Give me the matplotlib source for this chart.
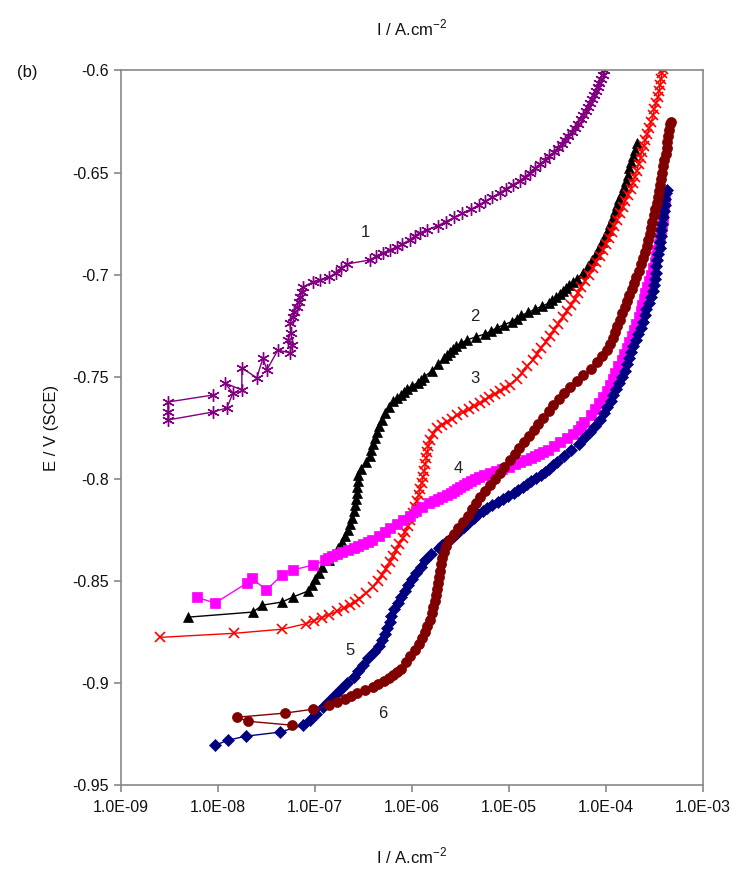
import numpy as np
import matplotlib
matplotlib.use("Agg")
import matplotlib.pyplot as plt
from matplotlib.ticker import FixedLocator, FuncFormatter, NullLocator

plt.rcParams['font.family'] = ['Liberation Sans', 'DejaVu Sans']
plt.rcParams['mathtext.fontset'] = 'custom'
plt.rcParams['mathtext.rm'] = 'Liberation Sans'

# potential E (V vs SCE) and log10 of current density (A/cm2)
c1_e = [-0.759, -0.7624, -0.7673, -0.7712, -0.7673, -0.7653, -0.7580, -0.7531, -0.7565, -0.7457,
        -0.7506, -0.7408, -0.7467, -0.7369, -0.7384, -0.7345, -0.7320, -0.7286, -0.7237, -0.7207,
        -0.7183, -0.7158, -0.7134, -0.7109, -0.7085, -0.7060,
        -0.7036, -0.7026, -0.7011, -0.6990, -0.6970, -0.6948, -0.6928, -0.6910, -0.6894, -0.6880,
        -0.6864, -0.6850, -0.6830, -0.6810, -0.6796, -0.6780, -0.6760, -0.6740, -0.6720, -0.6700,
        -0.6680, -0.6660, -0.6640, -0.6620, -0.6600, -0.6580, -0.6560, -0.6540, -0.6520, -0.6500,
        -0.6480, -0.6460, -0.6440, -0.6420, -0.6400, -0.6380, -0.6360, -0.6340, -0.6320, -0.6300,
        -0.6280, -0.6260, -0.6240, -0.6220, -0.6200, -0.6180, -0.6160, -0.6140, -0.6120, -0.6100,
        -0.6080, -0.6060, -0.6040, -0.6020, -0.6000]
c1_logi = [-8.052, -8.515, -8.515, -8.515, -8.052, -7.907, -7.845, -7.928, -7.753, -7.753,
           -7.598, -7.536, -7.495, -7.381, -7.258, -7.237, -7.278, -7.247, -7.258, -7.227,
           -7.216, -7.186, -7.165, -7.155, -7.134, -7.124,
           -7.02, -6.95, -6.85, -6.78, -6.73, -6.67, -6.43, -6.37, -6.30, -6.23,
           -6.155, -6.10, -6.02, -5.97, -5.92, -5.84, -5.73, -5.65, -5.56, -5.48,
           -5.39, -5.31, -5.24, -5.17, -5.095, -5.03, -4.96, -4.885, -4.83, -4.78,
           -4.73, -4.675, -4.625, -4.58, -4.53, -4.49, -4.455, -4.42, -4.385, -4.35,
           -4.32, -4.285, -4.26, -4.23, -4.205, -4.18, -4.16, -4.14, -4.12, -4.10,
           -4.08, -4.065, -4.05, -4.03, -4.015]

c2_e = [-0.8678, -0.8653, -0.8619, -0.8604, -0.8580,
        -0.855, -0.852, -0.849, -0.846, -0.843, -0.840, -0.837, -0.834, -0.831, -0.828,
        -0.825, -0.822, -0.819, -0.816, -0.813, -0.810, -0.807, -0.804, -0.801, -0.798,
        -0.795, -0.792, -0.789, -0.786, -0.783, -0.780, -0.777, -0.774, -0.771, -0.768,
        -0.765, -0.762, -0.7605, -0.759, -0.7575, -0.756, -0.7545, -0.753, -0.7515, -0.750,
        -0.747, -0.744, -0.741, -0.7395, -0.738, -0.7365,
        -0.735, -0.7335, -0.732, -0.7305, -0.729, -0.7275, -0.726, -0.7245, -0.723, -0.7215,
        -0.720, -0.7185, -0.717, -0.7155, -0.714, -0.7125, -0.711, -0.7095, -0.708,
        -0.7065, -0.705, -0.7035, -0.702, -0.699, -0.696, -0.693, -0.690, -0.687, -0.684, -0.681, -0.678,
        -0.675, -0.672, -0.669, -0.666, -0.663, -0.660, -0.657, -0.654, -0.651, -0.648,
        -0.645, -0.642, -0.639, -0.6355]
c2_logi = [-8.31, -7.64, -7.54, -7.34, -7.23,
           -7.07, -7.03, -7.00, -6.96, -6.93, -6.85, -6.81, -6.76, -6.72, -6.69,
           -6.66, -6.64, -6.62, -6.60, -6.585, -6.58, -6.57, -6.565, -6.56, -6.55,
           -6.52, -6.47, -6.43, -6.42, -6.40, -6.38, -6.36, -6.34, -6.31, -6.28,
           -6.24, -6.19, -6.15, -6.11, -6.08, -6.05, -6.00, -5.94, -5.905, -5.87,
           -5.79, -5.73, -5.67, -5.64, -5.61, -5.575,
           -5.54, -5.49, -5.43, -5.34, -5.24, -5.18, -5.12, -5.045, -4.97, -4.92,
           -4.87, -4.80, -4.73, -4.66, -4.59, -4.55, -4.51, -4.475, -4.44,
           -4.41, -4.38, -4.34, -4.30, -4.23, -4.18, -4.14, -4.10, -4.07, -4.04, -4.01, -3.98,
           -3.955, -3.93, -3.90, -3.88, -3.86, -3.835, -3.815, -3.795, -3.775, -3.755,
           -3.74, -3.72, -3.70, -3.68]

c3_e = [-0.8777, -0.8757, -0.8737,
        -0.871, -0.8695, -0.868, -0.8665, -0.865, -0.8635, -0.862, -0.8605, -0.859, -0.856,
        -0.853, -0.850, -0.847, -0.844,
        -0.841, -0.838, -0.835, -0.832, -0.829, -0.826, -0.823, -0.820, -0.817, -0.814,
        -0.811, -0.808, -0.805, -0.802, -0.799, -0.796, -0.793, -0.790, -0.787, -0.784,
        -0.781, -0.778, -0.775, -0.7735, -0.772, -0.7705, -0.769, -0.7675, -0.766, -0.7645,
        -0.763, -0.7615, -0.760, -0.7585, -0.757, -0.7555, -0.754,
        -0.751, -0.748, -0.745, -0.742, -0.739, -0.736, -0.733, -0.730, -0.727, -0.724,
        -0.721, -0.718, -0.715, -0.712, -0.709, -0.706, -0.703, -0.700, -0.697, -0.694,
        -0.691, -0.688, -0.685, -0.682, -0.679, -0.676, -0.673, -0.670, -0.667, -0.664,
        -0.661, -0.658, -0.655, -0.652, -0.649, -0.646, -0.643, -0.640, -0.637, -0.634,
        -0.631, -0.628, -0.625, -0.622, -0.619, -0.616, -0.613, -0.610, -0.607, -0.604,
        -0.601, -0.5995]
c3_logi = [-8.60, -7.83, -7.34,
           -7.09, -7.01, -6.93, -6.85, -6.77, -6.70, -6.64, -6.59, -6.54, -6.47,
           -6.40, -6.35, -6.31, -6.27,
           -6.23, -6.19, -6.16, -6.13, -6.09, -6.07, -6.04, -6.02, -5.99, -5.97,
           -5.95, -5.93, -5.915, -5.90, -5.88, -5.87, -5.86, -5.85, -5.84, -5.83,
           -5.81, -5.78, -5.74, -5.69, -5.64, -5.585, -5.53, -5.47, -5.41, -5.355,
           -5.30, -5.25, -5.20, -5.145, -5.09, -5.04, -4.99,
           -4.92, -4.86, -4.81, -4.75, -4.71, -4.67, -4.62, -4.57, -4.53, -4.49,
           -4.44, -4.40, -4.36, -4.32, -4.29, -4.25, -4.21, -4.17, -4.13, -4.10,
           -4.06, -4.03, -4.00, -3.97, -3.94, -3.91, -3.88, -3.85, -3.82, -3.80,
           -3.77, -3.74, -3.72, -3.70, -3.68, -3.66, -3.64, -3.63, -3.61, -3.59,
           -3.57, -3.55, -3.53, -3.51, -3.50, -3.48, -3.46, -3.45, -3.44, -3.43,
           -3.42, -3.41]

c4_e = [-0.8580, -0.8609, -0.8511, -0.8487, -0.8545, -0.8472, -0.8447, -0.8423,
        -0.840, -0.839, -0.838, -0.837, -0.836, -0.835, -0.834, -0.833, -0.832, -0.831, -0.830,
        -0.828, -0.826, -0.824, -0.822, -0.820, -0.818, -0.816, -0.814, -0.812,
        -0.811, -0.810, -0.809, -0.808, -0.807, -0.806, -0.805, -0.804, -0.803, -0.802,
        -0.801, -0.800, -0.799, -0.798, -0.797, -0.796, -0.795, -0.794, -0.793, -0.792,
        -0.791, -0.790, -0.789, -0.788, -0.787, -0.786,
        -0.784, -0.782, -0.780, -0.778, -0.776, -0.774, -0.772,
        -0.769, -0.766, -0.763, -0.760, -0.757, -0.754, -0.751, -0.748, -0.745, -0.742,
        -0.739, -0.736, -0.733, -0.730, -0.727, -0.724, -0.721, -0.718, -0.715, -0.712,
        -0.709, -0.706, -0.703, -0.700, -0.697, -0.694, -0.691, -0.688, -0.685, -0.682,
        -0.679, -0.676, -0.673, -0.670, -0.667, -0.664]
c4_logi = [-8.22, -8.03, -7.70, -7.65, -7.50, -7.34, -7.23, -7.02,
           -6.90, -6.86, -6.82, -6.77, -6.72, -6.66, -6.60, -6.55, -6.50, -6.455, -6.41,
           -6.34, -6.28, -6.22, -6.15, -6.09, -6.02, -5.96, -5.89, -5.82,
           -5.775, -5.73, -5.685, -5.64, -5.60, -5.56, -5.53, -5.50, -5.465, -5.43,
           -5.39, -5.35, -5.305, -5.26, -5.195, -5.13, -5.065, -5.00, -4.94, -4.88,
           -4.825, -4.77, -4.73, -4.69, -4.645, -4.60,
           -4.53, -4.47, -4.40, -4.34, -4.29, -4.25, -4.22,
           -4.15, -4.11, -4.07, -4.03, -3.99, -3.96, -3.93, -3.90, -3.87, -3.835,
           -3.81, -3.78, -3.76, -3.73, -3.71, -3.69, -3.66, -3.64, -3.625, -3.61,
           -3.59, -3.57, -3.55, -3.53, -3.51, -3.49, -3.48, -3.47, -3.455, -3.44,
           -3.43, -3.42, -3.41, -3.405, -3.40, -3.39]

c5_e = [-0.9306, -0.9281, -0.9261, -0.9241, -0.9207,
        -0.918, -0.915, -0.912, -0.909, -0.906, -0.903, -0.900, -0.897, -0.894, -0.891,
        -0.888, -0.885, -0.882, -0.879, -0.876, -0.873, -0.870, -0.867, -0.864, -0.861,
        -0.858, -0.855, -0.852, -0.849, -0.846, -0.843, -0.840, -0.837, -0.834, -0.8325,
        -0.831, -0.8295,
        -0.828, -0.8265, -0.825, -0.8235, -0.822, -0.8205, -0.819, -0.8175, -0.816, -0.8145,
        -0.813, -0.8115, -0.810, -0.8085, -0.807, -0.8055, -0.804, -0.8025, -0.801, -0.7995,
        -0.798, -0.7965, -0.795, -0.7935, -0.792, -0.789, -0.786, -0.783, -0.780, -0.777,
        -0.774, -0.771,
        -0.768, -0.765, -0.762, -0.759, -0.756, -0.753, -0.750, -0.747, -0.744, -0.741,
        -0.738, -0.735, -0.732, -0.729, -0.726, -0.723, -0.720, -0.717, -0.714, -0.711,
        -0.708, -0.705, -0.702, -0.699, -0.696, -0.693, -0.690, -0.687, -0.684, -0.681,
        -0.678, -0.675, -0.672, -0.669, -0.666, -0.663, -0.660, -0.6585]
c5_logi = [-8.03, -7.90, -7.71, -7.36, -7.12,
           -7.05, -6.99, -6.92, -6.85, -6.79, -6.73, -6.67, -6.60, -6.555, -6.50,
           -6.45, -6.39, -6.34, -6.31, -6.28, -6.26, -6.23, -6.21, -6.18, -6.14,
           -6.11, -6.07, -6.04, -6.00, -5.96, -5.91, -5.86, -5.80, -5.72, -5.685,
           -5.65, -5.61,
           -5.57, -5.535, -5.50, -5.465, -5.43, -5.395, -5.36, -5.315, -5.27, -5.22,
           -5.17, -5.115, -5.06, -5.005, -4.95, -4.90, -4.85, -4.81, -4.77, -4.72,
           -4.67, -4.625, -4.58, -4.54, -4.50, -4.43, -4.36, -4.28, -4.22, -4.165,
           -4.11, -4.06,
           -4.02, -3.99, -3.95, -3.92, -3.89, -3.86, -3.83, -3.80, -3.78, -3.76,
           -3.74, -3.715, -3.69, -3.665, -3.64, -3.62, -3.60, -3.58, -3.55, -3.53,
           -3.51, -3.50, -3.49, -3.485, -3.48, -3.47, -3.46, -3.445, -3.44, -3.43,
           -3.425, -3.42, -3.41, -3.40, -3.39, -3.385, -3.375, -3.37]

c6_e = [-0.9207, -0.9188, -0.9168, -0.9148, -0.9129,
        -0.911, -0.9095, -0.908, -0.9065, -0.905, -0.9035, -0.902, -0.9005, -0.899, -0.8975,
        -0.896, -0.8945, -0.893, -0.890, -0.887, -0.884,
        -0.881, -0.878, -0.875, -0.872, -0.869, -0.866, -0.863, -0.860, -0.857, -0.854,
        -0.851, -0.848, -0.845, -0.842, -0.839, -0.836, -0.833, -0.830, -0.827, -0.824,
        -0.821, -0.818, -0.815, -0.812, -0.809, -0.806, -0.803, -0.800, -0.797, -0.794,
        -0.791, -0.788, -0.785, -0.782, -0.779, -0.776, -0.773, -0.770, -0.767, -0.764,
        -0.761, -0.758, -0.755, -0.752, -0.749, -0.746, -0.743, -0.740, -0.737, -0.734,
        -0.731, -0.728, -0.725, -0.722, -0.719, -0.716, -0.713, -0.710, -0.707, -0.704,
        -0.701, -0.698, -0.695, -0.692, -0.689, -0.686, -0.683, -0.680, -0.677, -0.674,
        -0.671, -0.668, -0.665, -0.662, -0.659, -0.656, -0.653, -0.650, -0.647, -0.644,
        -0.641, -0.638, -0.635, -0.632, -0.629, -0.626, -0.625]
c6_logi = [-7.24, -7.69, -7.80, -7.31, -7.02,
           -6.85, -6.77, -6.69, -6.63, -6.57, -6.485, -6.40, -6.345, -6.29, -6.24,
           -6.19, -6.15, -6.11, -6.06, -6.015, -5.97,
           -5.93, -5.89, -5.86, -5.84, -5.81, -5.795, -5.78, -5.765, -5.75, -5.74,
           -5.73, -5.72, -5.71, -5.70, -5.69, -5.67, -5.65, -5.62, -5.57, -5.52,
           -5.47, -5.42, -5.38, -5.34, -5.295, -5.24, -5.195, -5.145, -5.095, -5.045,
           -4.99, -4.94, -4.89, -4.84, -4.79, -4.74, -4.70, -4.65, -4.59, -4.54,
           -4.485, -4.43, -4.37, -4.30, -4.23, -4.15, -4.09, -4.035, -3.99, -3.96,
           -3.93, -3.905, -3.88, -3.855, -3.83, -3.80, -3.78, -3.755, -3.73, -3.71,
           -3.685, -3.66, -3.64, -3.62, -3.595, -3.575, -3.56, -3.545, -3.53, -3.52,
           -3.505, -3.49, -3.475, -3.46, -3.45, -3.44, -3.43, -3.415, -3.405, -3.395,
           -3.38, -3.37, -3.365, -3.355, -3.345, -3.335, -3.33]

curve_names = ['1', '2', '3', '4', '5', '6']
x_ticks = [1e-9, 1e-8, 1e-7, 1e-6, 1e-5, 1e-4, 1e-3]
y_ticks = [-0.95, -0.9, -0.85, -0.8, -0.75, -0.7, -0.65, -0.6]

fig = plt.figure(figsize=(7.42, 8.81), dpi=100)
ax = fig.add_axes([0.163, 0.109, 0.784, 0.811])

# (logI, E, colour, marker, size, edge width)
series = [
    (c1_logi, c1_e, '#800080', (6, 2, 0), 9, 1.0),
    (c2_logi, c2_e, '#000000', '^', 7, 0.5),
    (c3_logi, c3_e, '#ff0000', 'x', 7.5, 1.2),
    (c4_logi, c4_e, '#ff00ff', 's', 6.5, 0.5),
    (c5_logi, c5_e, '#000080', 'D', 6, 0.5),
    (c6_logi, c6_e, '#800000', 'o', 7.2, 0.5),
]
for logi, e, col, mk, ms, mew in series:
    assert len(logi) == len(e)
    ax.plot(10 ** np.array(logi), e, color=col, lw=1.0, marker=mk, ms=ms,
            mew=mew, mec=col, mfc=col)

ax.set_xscale('log')
ax.set_xlim(1e-9, 1e-3)
ax.set_ylim(-0.95, -0.6)
ax.xaxis.set_major_locator(FixedLocator(x_ticks))
ax.xaxis.set_minor_locator(NullLocator())
ax.xaxis.set_major_formatter(FuncFormatter(lambda v, p: f"{v:.1E}"))
ax.yaxis.set_major_locator(FixedLocator(y_ticks))
ax.yaxis.set_major_formatter(FuncFormatter(lambda v, p: f"{v:g}"))

for s in ax.spines.values():
    s.set_color('#888888')
    s.set_linewidth(1.2)
ax.tick_params(axis='both', direction='out', length=5, width=1.2, color='#888888',
               labelsize=11.5, labelcolor='#111111')
ax.tick_params(axis='x', pad=6)

ax.set_xlabel('I / A.cm$^{-2}$', fontsize=12, labelpad=22, color='#111111')
ax.set_ylabel('E / V (SCE)', fontsize=12, labelpad=10, color='#111111')
fig.text(0.555, 0.968, 'I / A.cm$^{-2}$', ha='center', va='center', fontsize=12, color='#111111')
fig.text(0.037, 0.918, '(b)', ha='center', va='center', fontsize=12, color='#111111')

# curve numbers
label_pos = [(3.3e-7, -0.6796), (4.5e-6, -0.7207), (4.5e-6, -0.7507),
             (3.0e-6, -0.7948), (2.3e-7, -0.8840), (5.0e-7, -0.9149)]
for name, (lx, ly) in zip(curve_names, label_pos):
    ax.text(lx, ly, name, fontsize=12, ha='center', va='center', color='#222222')

plt.savefig('out.png', dpi=100)
